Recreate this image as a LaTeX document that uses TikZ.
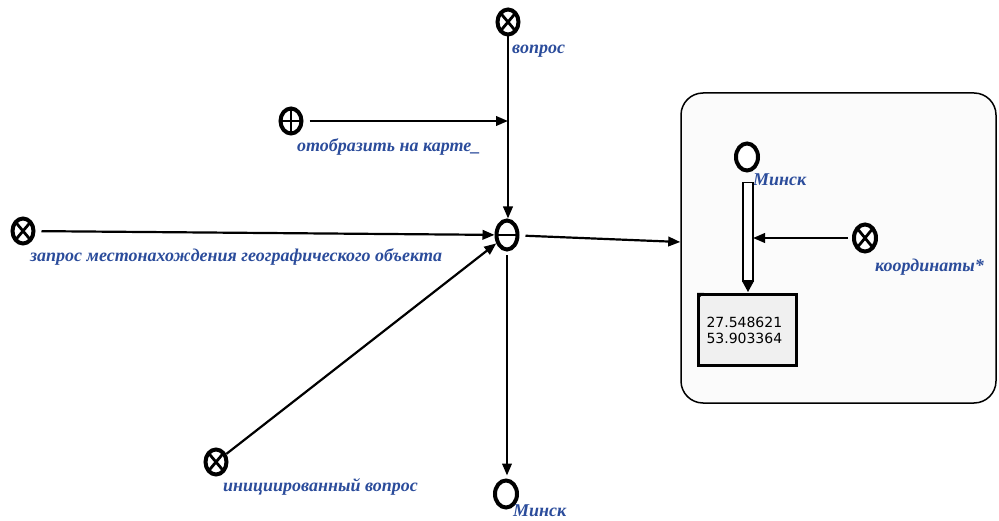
\documentclass[tikz,border=0pt]{standalone}
\usepackage{fontspec}
\setmainfont{Liberation Serif}
\newfontfamily\numfont{DejaVu Sans}
\usetikzlibrary{arrows.meta,shapes.geometric,calc}
\definecolor{lblblue}{HTML}{2B4C9B}
\definecolor{panelfill}{HTML}{FBFBFB}
\definecolor{valfill}{HTML}{F0F0F0}
\begin{document}
\begin{tikzpicture}[x=1pt,y=-1pt,
  ring/.style={ellipse,draw=black,line width=4pt,minimum width=21pt,minimum height=25pt,inner sep=0pt,fill=white},
  bigring/.style={ring,minimum width=22pt,minimum height=27pt},
  crossmark/.style={path picture={\draw[line width=2.8pt]
      (path picture bounding box.north west)--(path picture bounding box.south east)
      (path picture bounding box.north east)--(path picture bounding box.south west);}},
  plusmark/.style={path picture={\draw[line width=2.8pt]
      (path picture bounding box.north)--(path picture bounding box.south)
      (path picture bounding box.east)--(path picture bounding box.west);}},
  minusmark/.style={path picture={\draw[line width=2.8pt]
      (path picture bounding box.east)--(path picture bounding box.west);}},
  lbl/.style={font=\fontsize{18}{20}\selectfont\bfseries\itshape,text=lblblue,inner sep=0pt,anchor=west},
  arr/.style={line width=2.2pt,-{Triangle[length=12pt,width=9.5pt]}},
]
\useasboundingbox (0,0) rectangle (999,521);

% --- left part: request node and its inputs
\node[ring,crossmark] (q) at (508,22) {};
\node[lbl] (ql) at (512,51) {вопрос};

\node[ring,plusmark] (s) at (291,121) {};
\node[lbl] (sl) at (297,147) {отобразить на карте\_};

\node[ring,crossmark] (z) at (23,231) {};
\node[lbl] (zl) at (30,257) {запрос местонахождения географического объекта};

\node[ring,minusmark,minimum height=29pt] (c) at (507,235) {};

\node[ring,crossmark] (iq) at (216,462) {};
\node[lbl] (iql) at (223,487) {инициированный вопрос};

\node[bigring] (m1) at (506,494) {};
\node[lbl] (m1l) at (513,511) {Минск};

\coordinate (j) at (q |- s);
\draw[arr] (q) -- (q |- c.north);
\draw[arr, shorten <=6pt] (s) -- (j);
\draw[arr, shorten <=6pt] (z) -- (c);
\draw[arr] (iq) -- (c);
\draw[arr, shorten <=4pt, shorten >=3pt] (c) -- (c |- m1.north);

% --- right part: result panel
\node[draw=black,line width=1.5pt,rounded corners=22pt,fill=panelfill,
      minimum width=315pt,minimum height=310pt] (panel) at (838.5,248) {};
\draw[arr, shorten <=6pt] (c) -- ($(panel.west)+(0,-6)$);

\node[bigring] (m2) at (747,157) {};
\node[lbl] (m2l) at (753,180) {Минск};

\node[draw=black,line width=3pt,fill=valfill,text width=82pt,minimum height=71pt,
      inner xsep=8pt,align=left,font=\numfont\fontsize{14}{16}\selectfont] (box) at (747.5,330)
      {27.548621\\53.903364};
\fill (box.north west) -- ++(7,0) -- ++(-7,7) -- cycle;

\coordinate (bt) at ($(m2.south)+(1,10)$);
\coordinate (bb) at ($(box.north)+(0.5,-12)$);
\draw[line width=1.5pt,fill=white] ($(bt)+(-5,0)$) rectangle ($(bb)+(5,0)$);
\fill ($(bb)+(-6,0)$) -- ($(bb)+(6,0)$) -- ($(box.north)+(0.5,-1)$) -- cycle;

\node[bigring,crossmark] (k) at (865,238) {};
\node[lbl] (kl) at (875,267) {координаты*};
\coordinate (kj) at ($(bt |- k)+(5,0)$);
\draw[arr, shorten <=4pt] (k) -- (kj);
\end{tikzpicture}
\end{document}
